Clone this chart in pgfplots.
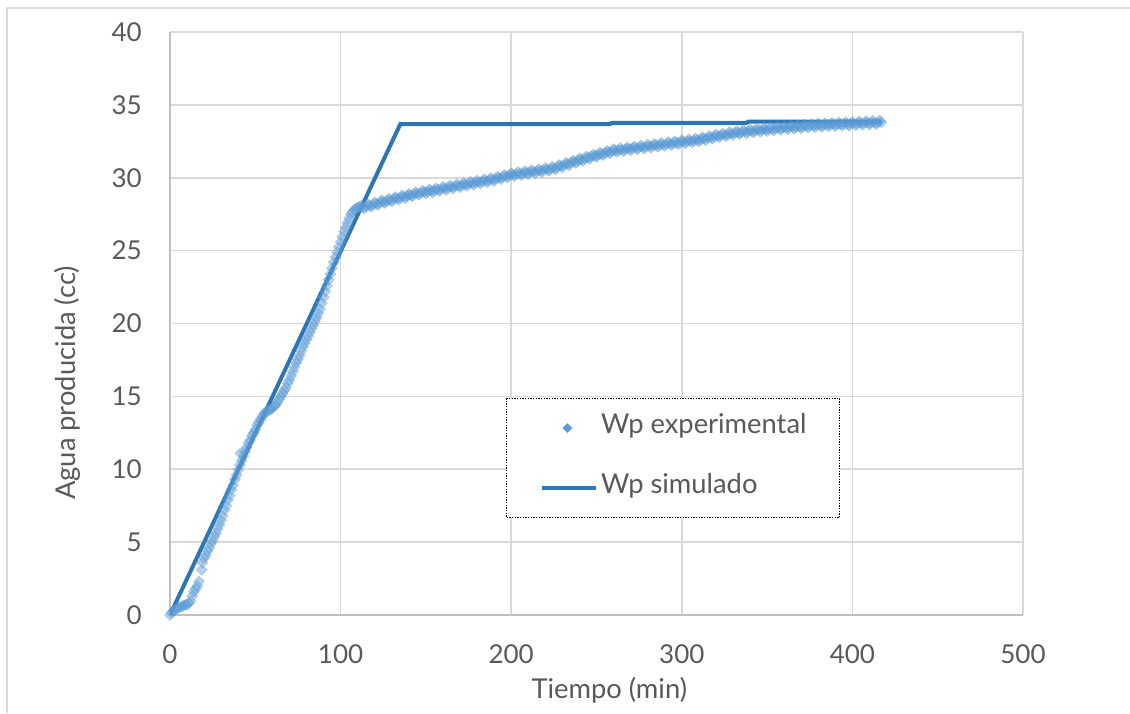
\documentclass[border=0pt]{standalone}
\usepackage{pgfplots}
\pgfplotsset{compat=1.18}
\usepackage{fontspec}
\setmainfont{Lato}
\definecolor{txt}{HTML}{595959}
\definecolor{gridc}{HTML}{D9D9D9}
\definecolor{axc}{HTML}{BFBFBF}
\definecolor{mk}{HTML}{5B9BD5}
\definecolor{ln}{HTML}{2E75B6}
\newcommand{\tf}{\fontsize{19.5}{22}\selectfont}
\newcommand{\cf}{\fontsize{20.5}{23}\selectfont}
\begin{document}
\begin{tikzpicture}
\useasboundingbox (0pt,0pt) rectangle (847.5pt,534.75pt);
\draw[gridc, line width=1.2pt] (5.25pt,0pt) -- (5.25pt,528.75pt) -- (847.5pt,528.75pt);
\begin{axis}[
  at={(127.5pt,73.5pt)}, anchor=south west,
  scale only axis, width=639.75pt, height=437.25pt,
  xmin=0, xmax=500, ymin=0, ymax=40,
  enlargelimits=false,
  xtick={0,100,...,500}, ytick={0,5,...,40},
  grid=major, major grid style={gridc, line width=1.2pt},
  axis lines=left,
  axis line style={axc, line width=1.2pt, -},
  major tick length=0pt,
  /pgf/number format/assume math mode=true,
  tick label style={font=\tf, text=txt},
  yticklabel style={anchor=east, inner sep=0pt, xshift=-21pt},
  xticklabel style={anchor=north, inner sep=0pt, yshift=-22pt},
  xlabel={Tiempo (min)}, ylabel={Agua producida (cc)},
  label style={font=\cf, text=txt},
  xlabel style={at={(axis description cs:0.515,-0.1286)}, anchor=center},
  ylabel style={at={(axis description cs:-0.1204,0.398)}, anchor=center},
  legend cell align=left,
  legend style={at={(rel axis cs:0.394,0.372)}, anchor=north west,
    draw=black, line width=1pt, dash pattern={on 1pt off 1pt},
    inner xsep=25pt, inner ysep=14pt, row sep=29pt, column sep=2.25pt,
    font=\cf, text=txt,
    nodes={inner sep=0pt, text height=12pt, text depth=4pt}},
]
\addplot[mk, only marks, mark=square*, mark size=2.9pt,
  mark options={rotate=45, mk, opacity=0.45},
  legend image code/.code={\path[draw=none, fill=none] (0pt,0pt) -- (40.5pt,0pt);
    \fill[mk, draw=none, solid] (19pt,0pt) +(0,3.7pt) -- +(3.7pt,0) -- +(0,-3.7pt) -- +(-3.7pt,0) -- cycle;}]
table {
x y
0 0
1 0.15
2 0.3
3 0.35
4 0.45
5 0.5
6 0.55
7 0.6
8 0.65
9 0.7
10 0.72
11 0.8
12 0.95
13 1.3
14 1.6
15 1.8
16 2.0
17 2.3
18.6 3.1
19 3.6
20 3.9
21 4.1
22 4.4
23 4.6
24 4.9
25 5.1
26 5.4
27 5.6
28 5.9
29 6.2
30 6.5
31 6.8
32 7.2
33 7.5
34 7.9
35 8.2
36 8.6
37 8.9
38 9.3
39 9.6
40 9.95
41 10.3
41.3 11.1
42 10.6
43 10.9
44 11.2
45 11.5
46 11.8
47 12.0
48 12.3
49 12.5
50 12.7
51 13.0
52 13.2
53 13.4
54 13.6
55 13.8
56 13.9
57 14.0
58 14.05
59 14.1
60 14.2
61 14.3
62 14.4
63 14.6
64 14.8
65 15.0
66 15.2
67 15.4
68 15.6
69 15.9
70 16.1
71 16.4
72 16.7
73 17.0
74 17.3
75 17.55
76 17.8
77 18.1
78 18.4
79 18.65
80 18.9
81 19.15
82 19.4
83 19.65
84 19.9
85 20.15
86 20.4
87 20.7
88 21.0
89 21.4
90 21.8
91 22.2
92 22.6
93 23.0
94 23.4
95 23.8
96 24.2
97 24.55
98 24.9
99 25.25
100 25.6
101 25.95
102 26.3
103 26.6
104 26.9
105 27.2
106 27.5
107 27.65
108 27.8
109 27.9
110 27.95
112 28.07
114 27.89
116 28.19
118 28.01
120 28.31
122 28.13
124 28.44
126 28.26
128 28.56
130 28.38
132 28.68
134 28.49
136 28.79
138 28.60
140 28.90
142 28.72
144 29.01
146 28.83
148 29.11
150 28.92
152 29.20
154 29.00
156 29.28
158 29.09
160 29.37
162 29.17
164 29.46
166 29.26
168 29.55
170 29.35
172 29.63
174 29.44
176 29.72
178 29.52
180 29.81
182 29.61
184 29.89
186 29.69
188 29.98
190 29.78
192 30.08
194 29.90
196 30.20
198 30.02
200 30.32
202 30.11
204 30.39
206 30.18
208 30.45
210 30.25
212 30.52
214 30.31
216 30.59
218 30.39
220 30.67
222 30.47
224 30.75
226 30.57
228 30.88
230 30.71
232 31.03
234 30.86
236 31.17
238 31.01
240 31.32
242 31.15
244 31.46
246 31.29
248 31.60
250 31.43
252 31.73
254 31.55
256 31.85
258 31.67
260 31.97
262 31.76
264 32.03
266 31.82
268 32.09
270 31.88
272 32.15
274 31.94
276 32.21
278 32.00
280 32.27
282 32.06
284 32.33
286 32.12
288 32.39
290 32.18
292 32.45
294 32.24
296 32.51
298 32.30
300 32.57
302 32.36
304 32.63
306 32.42
308 32.69
310 32.48
312 32.77
314 32.58
316 32.87
318 32.68
320 32.97
322 32.77
324 33.05
326 32.85
328 33.13
330 32.93
332 33.20
334 32.99
336 33.26
338 33.05
340 33.32
342 33.10
344 33.37
346 33.15
348 33.41
350 33.20
352 33.46
354 33.24
356 33.51
358 33.29
360 33.54
362 33.32
364 33.58
366 33.36
368 33.61
370 33.39
372 33.65
374 33.43
376 33.68
378 33.46
380 33.72
382 33.49
384 33.74
386 33.52
388 33.77
390 33.54
392 33.79
394 33.56
396 33.81
398 33.58
400 33.83
402 33.60
404 33.86
406 33.63
408 33.88
410 33.65
412 33.90
414 33.67
416 33.92
417 33.80
111 28.01
113 27.98
115 28.04
117 28.10
119 28.16
121 28.22
123 28.29
125 28.35
127 28.41
129 28.47
131 28.53
133 28.59
135 28.64
137 28.70
139 28.75
141 28.81
143 28.87
145 28.92
147 28.97
149 29.02
151 29.06
153 29.10
155 29.14
157 29.19
159 29.23
161 29.27
163 29.32
165 29.36
167 29.41
169 29.45
171 29.49
173 29.54
175 29.58
177 29.62
179 29.67
181 29.71
183 29.75
185 29.79
187 29.84
189 29.88
191 29.93
193 29.99
195 30.05
197 30.11
199 30.17
201 30.22
203 30.25
205 30.29
207 30.32
209 30.35
211 30.39
213 30.42
215 30.45
217 30.49
219 30.53
221 30.57
223 30.61
225 30.66
227 30.73
229 30.80
231 30.87
233 30.95
235 31.02
237 31.09
239 31.17
241 31.24
243 31.31
245 31.38
247 31.45
249 31.52
251 31.58
253 31.64
255 31.70
257 31.76
259 31.82
261 31.87
263 31.90
265 31.93
267 31.96
269 31.99
271 32.02
273 32.05
275 32.08
277 32.11
279 32.14
281 32.17
283 32.20
285 32.23
287 32.26
289 32.29
291 32.32
293 32.35
295 32.38
297 32.41
299 32.44
301 32.47
303 32.50
305 32.53
307 32.56
309 32.59
311 32.63
313 32.68
315 32.73
317 32.78
319 32.83
321 32.87
323 32.91
325 32.95
327 32.99
329 33.03
331 33.07
333 33.10
335 33.13
337 33.16
339 33.19
341 33.21
343 33.24
345 33.26
347 33.28
349 33.31
351 33.33
353 33.35
355 33.38
357 33.40
359 33.42
361 33.43
363 33.45
365 33.47
367 33.49
369 33.50
371 33.52
373 33.54
375 33.56
377 33.57
379 33.59
381 33.61
383 33.62
385 33.63
387 33.65
389 33.66
391 33.67
393 33.68
395 33.69
397 33.70
399 33.71
401 33.72
403 33.73
405 33.75
407 33.76
409 33.77
411 33.78
413 33.79
415 33.80
};
\addlegendentry{Wp experimental}
\addplot[ln, line width=3pt, mark=none,
  legend image code/.code={\draw[ln, line width=3pt, solid] (0pt,0pt) -- (40.5pt,0pt);}]
coordinates {(0,0) (135,33.68) (258,33.68) (259,33.77) (338,33.77) (339,33.85) (417,33.85)};
\addlegendentry{Wp simulado}
\end{axis}
\end{tikzpicture}
\end{document}
